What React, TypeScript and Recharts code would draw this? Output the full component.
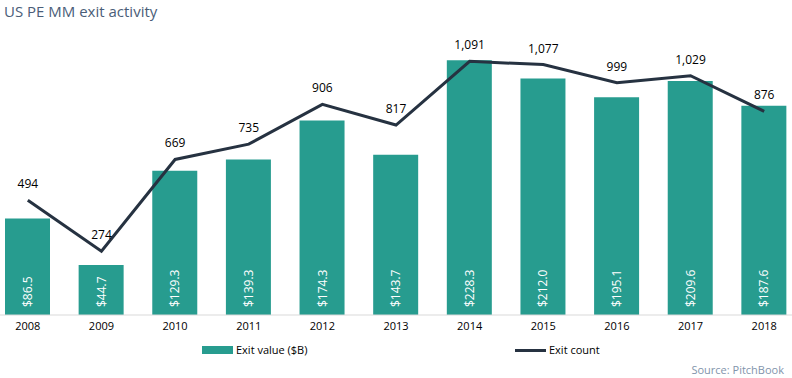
import { ComposedChart, Bar, Line, XAxis, YAxis, LabelList } from "recharts"

const years = ["2008", "2009", "2010", "2011", "2012", "2013", "2014", "2015", "2016", "2017", "2018"]
const exitValue = [86.5, 44.7, 129.3, 139.3, 174.3, 143.7, 228.3, 212.0, 195.1, 209.6, 187.6]
const exitCount = [494, 274, 669, 735, 906, 817, 1091, 1077, 999, 1029, 876]

const data = years.map((year, i) => ({ year, value: exitValue[i], count: exitCount[i] }))

const font = "'Open Sans', 'DejaVu Sans', sans-serif"

const BarValueLabel = (props: any) => {
  const { x, y, width, height, value } = props
  const cx = x + width / 2
  const by = y + height - 8
  return (
    <text
      x={cx}
      y={by}
      transform={`rotate(-90 ${cx} ${by})`}
      textAnchor="start"
      dominantBaseline="central"
      fill="#ffffff"
      fontSize={12}
      fontFamily={font}
    >
      ${value.toFixed(1)}
    </text>
  )
}

export default function App() {
  return (
    <div style={{ position: "absolute", left: 0, top: 0, width: 792, height: 378, overflow: "hidden", background: "#fff", fontFamily: font }}>
      <div style={{ position: "absolute", left: 4, top: 1, fontSize: 15, color: "#4a5d78" }}>US PE MM exit activity</div>
      <div style={{ position: "absolute", left: -9, top: 0 }}>
        <ComposedChart width={810} height={378} data={data} margin={{ top: 36, right: 0, bottom: 43, left: 0 }}>
          <XAxis
            dataKey="year"
            tickLine={false}
            tickSize={0}
            tickMargin={7}
            axisLine={{ stroke: "#d9d9d9" }}
            tick={{ fontSize: 11, fill: "#000", fontFamily: font }}
            height={20}
          />
          <YAxis yAxisId="left" domain={[0, 250]} hide />
          <YAxis yAxisId="right" domain={[0, 1200]} hide orientation="right" />
          <Bar yAxisId="left" dataKey="value" fill="#279c8f" barSize={45} isAnimationActive={false}>
            <LabelList dataKey="value" content={BarValueLabel} />
          </Bar>
          <Line
            yAxisId="right"
            dataKey="count"
            stroke="#263241"
            strokeWidth={3}
            dot={false}
            type="linear"
            isAnimationActive={false}
          >
            <LabelList
              dataKey="count"
              position="top"
              offset={12}
              formatter={(v: any) => Number(v).toLocaleString("en-US")}
              style={{ fontSize: 12, fill: "#000", fontFamily: font }}
            />
          </Line>
        </ComposedChart>
      </div>
      <div style={{ position: "absolute", left: 202, top: 346, width: 31, height: 8, background: "#279c8f" }} />
      <div style={{ position: "absolute", left: 236, top: 342, fontSize: 11, color: "#000" }}>Exit value ($B)</div>
      <div style={{ position: "absolute", left: 515, top: 349, width: 31, height: 3, background: "#263241" }} />
      <div style={{ position: "absolute", left: 549, top: 342, fontSize: 11, color: "#000" }}>Exit count</div>
      <div style={{ position: "absolute", right: 8, top: 362, fontSize: 11, color: "#8294ab" }}>Source: PitchBook</div>
    </div>
  )
}
